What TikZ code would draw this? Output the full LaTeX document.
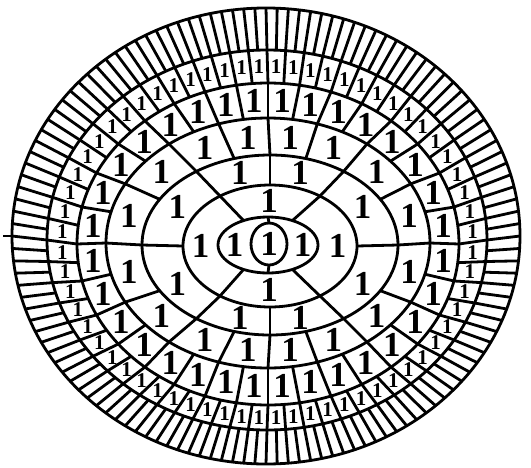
\documentclass[tikz,border=0pt]{standalone}
\usepackage{fontspec}
\setmainfont{Liberation Serif}
\usetikzlibrary{calc}
\tikzset{
  rim/.style={line width=2.8pt},
  digit/.style={font=\bfseries\fontsize{35}{35}\selectfont,inner sep=0pt},
  smalldigit/.style={font=\bfseries\fontsize{21}{21}\selectfont,inner sep=0pt}
}
% ellipse k: centre and radii (px)
\def\ringcx{{269,268,270,270,268,268,267,266}}
\def\ringcy{{244,245,246,245,243,244,240,236}}
\def\ringrx{{18,50,87,128,162,191,220,254}}
\def\ringry{{21,28,61,90,125,161,190,228}}
% point of ellipse #1 at polar angle #2 -> \px,\py
\newcommand\ringpoint[2]{%
  \pgfmathsetmacro\ecx{\ringcx[#1]}%
  \pgfmathsetmacro\ecy{\ringcy[#1]}%
  \pgfmathsetmacro\erx{\ringrx[#1]}%
  \pgfmathsetmacro\ery{\ringry[#1]}%
  \pgfmathsetmacro\er{\erx/sqrt(pow(cos(#2),2)+pow(\erx/\ery*sin(#2),2))}%
  \pgfmathsetmacro\px{\ecx+\er*cos(#2)}%
  \pgfmathsetmacro\py{\ecy-\er*sin(#2)}%
}

\begin{document}
\begin{tikzpicture}[x=1pt,y=-1pt]
\useasboundingbox (0,0) rectangle (531,467);
% rings
\foreach \k in {0,...,7}{
  \pgfmathsetmacro\cx{\ringcx[\k]}
  \pgfmathsetmacro\cy{\ringcy[\k]}
  \pgfmathsetmacro\rx{\ringrx[\k]}
  \pgfmathsetmacro\ry{\ringry[\k]}
  \draw[rim] (\cx,\cy) ellipse [x radius=\rx pt, y radius=\ry pt];
}
% centre cell
\node[digit] (one-0-0) at (269,244) {1};
% dividers and cells of ring k
\foreach \k in {1,...,7}{
  \pgfmathtruncatemacro\km{\k-1}
  \pgfmathtruncatemacro\n{2^\k}
  \pgfmathtruncatemacro\last{\n-1}
  \pgfmathsetmacro\step{360/\n}
  \pgfmathsetmacro\off{\k==1 ? 90 : (\k==2 ? 45 : 0)}
  \foreach \j in {0,...,\last}{
    \pgfmathsetmacro\ang{\off+\j*\step}
    \ringpoint{\km}{\ang}
    \coordinate (in) at (\px,\py);
    \ringpoint{\k}{\ang}
    \coordinate (out) at (\px,\py);
    \draw[rim] (in) -- (out);
    \ifnum\k<7
      \pgfmathsetmacro\mid{\off+(\j+0.5)*\step}
      \ringpoint{\km}{\mid}
      \coordinate (in) at (\px,\py);
      \ringpoint{\k}{\mid}
      \coordinate (out) at (\px,\py);
      \ifnum\k<6
        \node[digit] (one-\k-\j) at ($(in)!0.5!(out)$) {1};
      \else
        \node[smalldigit] (one-\k-\j) at ($(in)!0.5!(out)$) {1};
      \fi
    \fi
  }
}
% stub on the left
\coordinate (stub) at (3,236);
\draw[rim] (stub) -- (12,236);
\end{tikzpicture}
\end{document}
